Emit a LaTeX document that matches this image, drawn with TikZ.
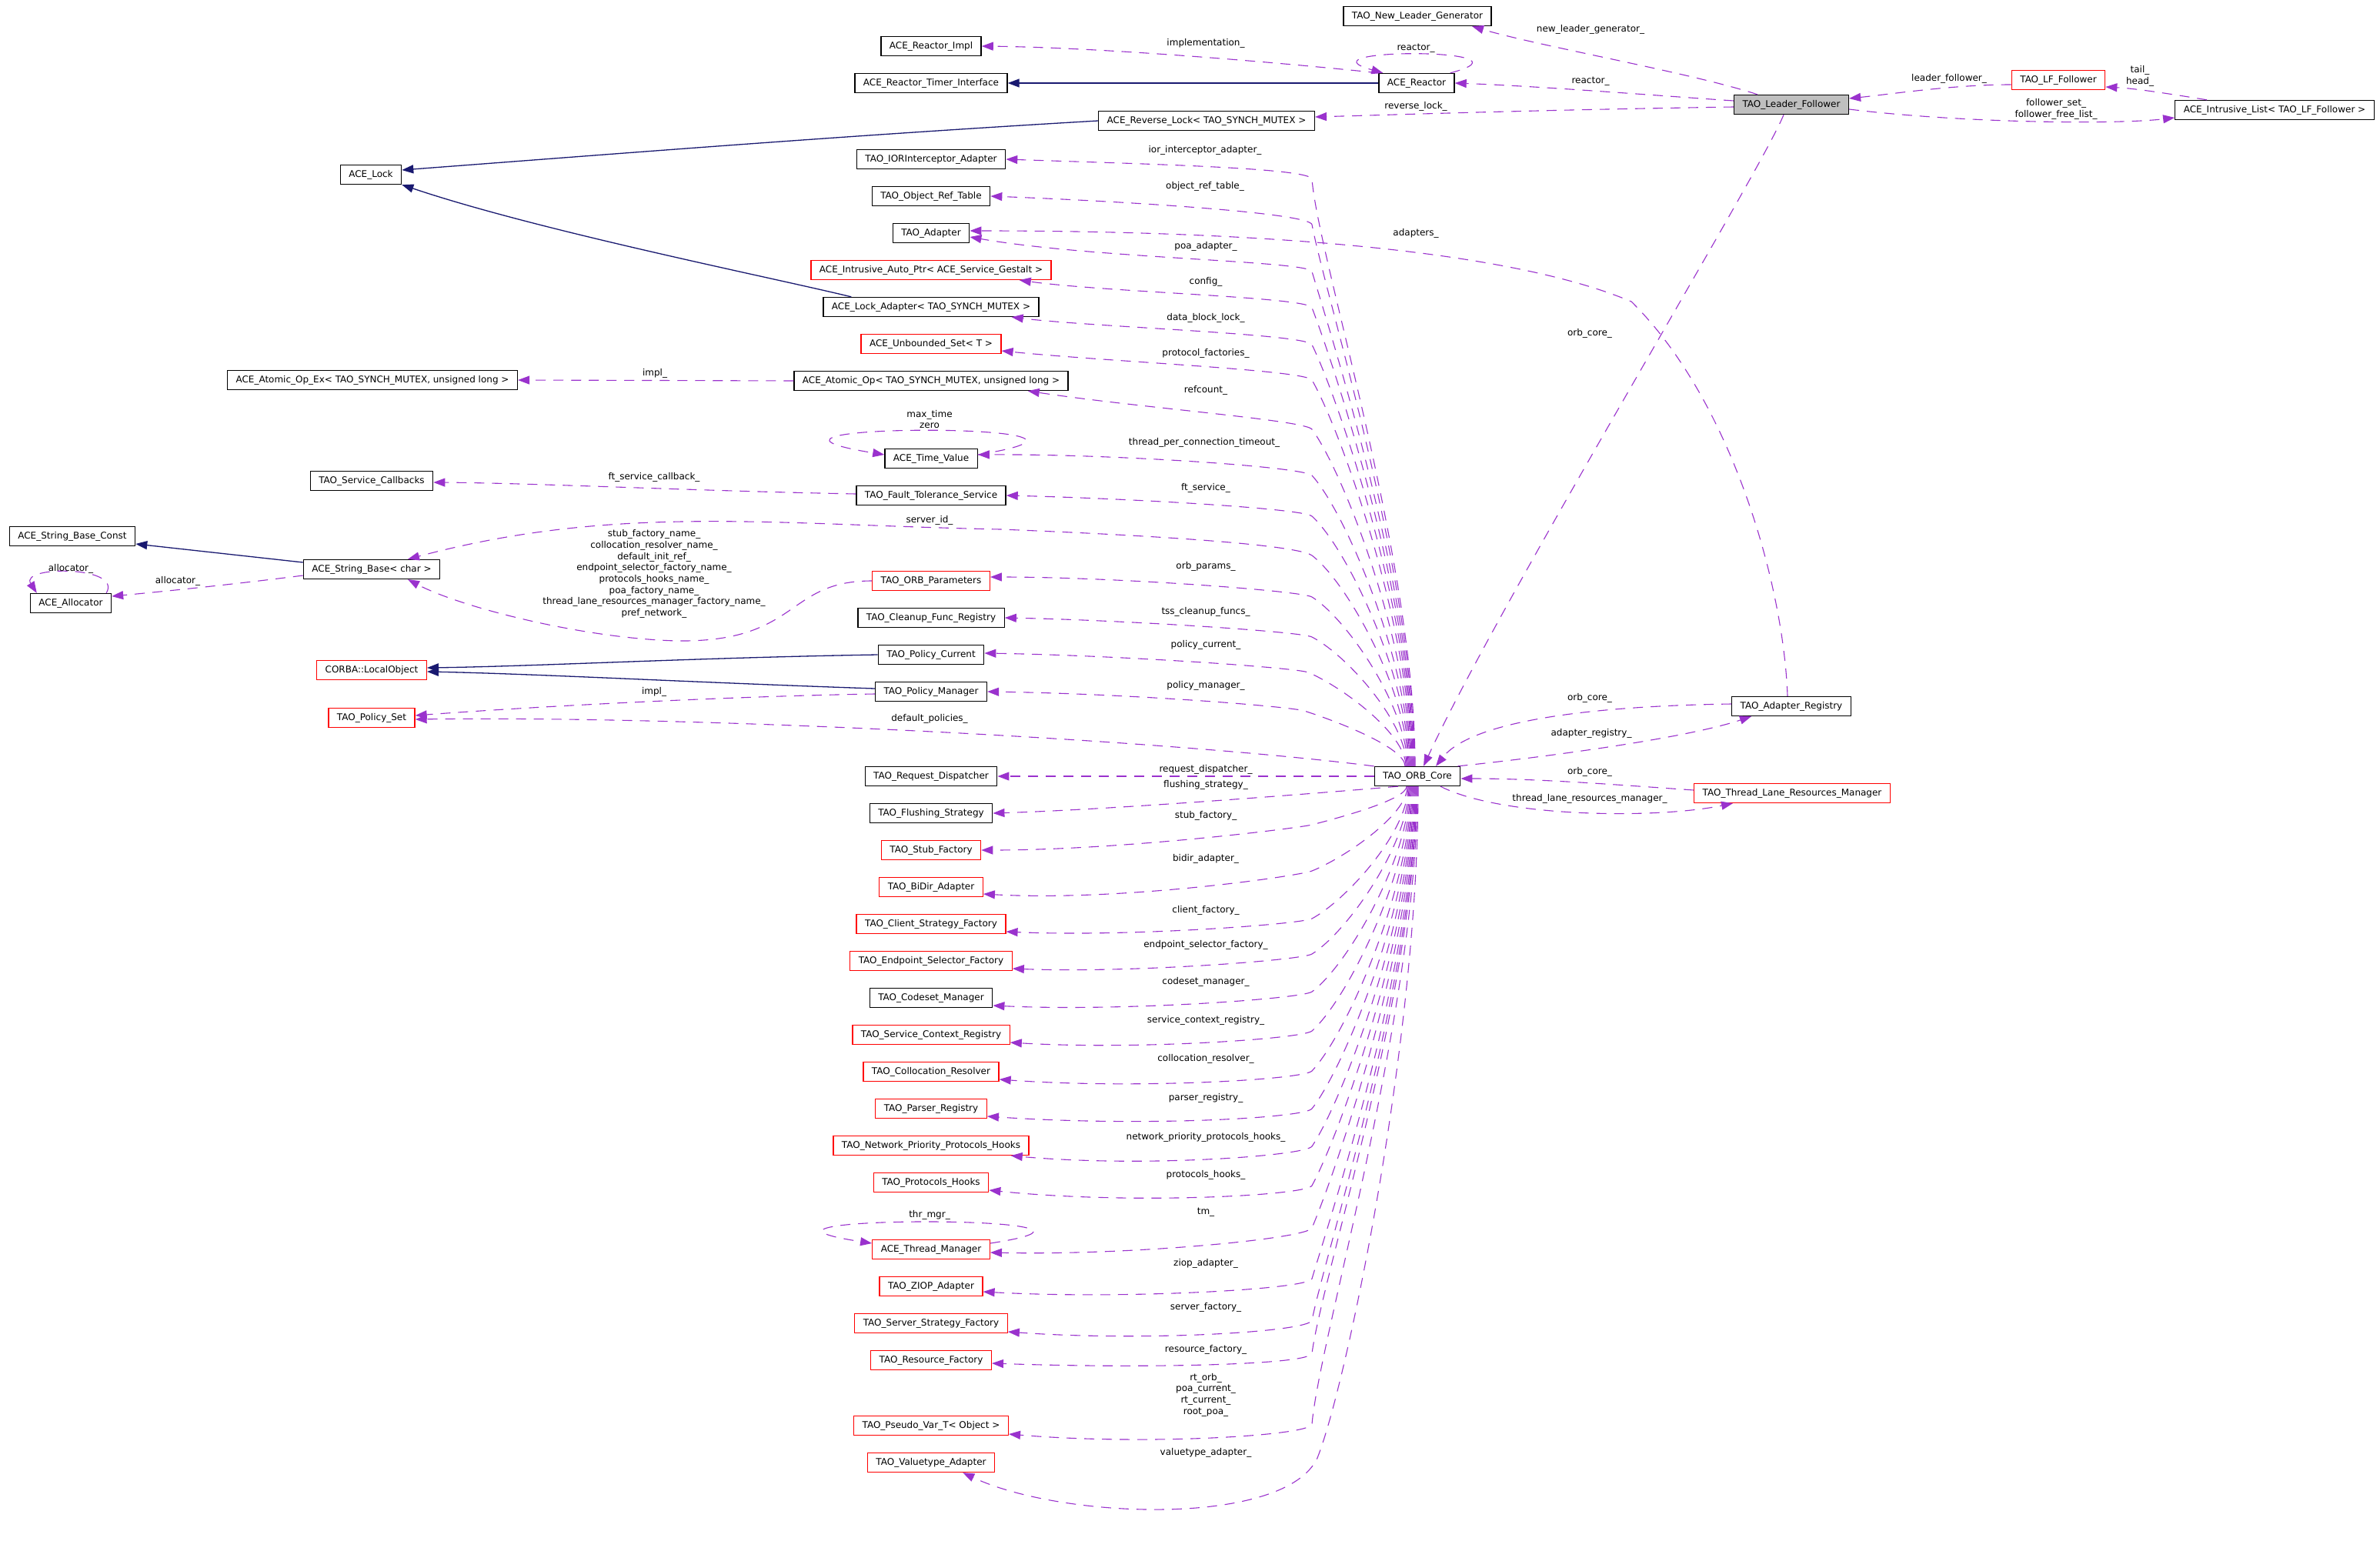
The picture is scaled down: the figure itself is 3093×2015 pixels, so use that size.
\documentclass[tikz,border=0pt]{standalone}
\usepackage{fontspec}
\setmainfont{DejaVu Sans}
\usetikzlibrary{arrows.meta}
\definecolor{usecol}{HTML}{9A32CD}
\definecolor{inhcol}{HTML}{191970}
\definecolor{grey75}{HTML}{BFBFBF}
\begin{document}
\begin{tikzpicture}[
		x=1pt, y=-1pt,
		every node/.style={font=\fontsize{12}{14.7}\selectfont, align=center},
		cls/.style={draw=black, fill=white, line width=1.3pt, minimum height=25pt, inner xsep=11pt, inner ysep=0pt},
		undoc/.style={cls, draw=red},
		focus/.style={cls, fill=grey75},
		lbl/.style={inner sep=0pt},
		member/.style={draw=usecol, line width=1.1pt, dash pattern=on 13pt off 10pt, -{Triangle[length=15pt,width=11pt]}},
		inherit/.style={draw=inhcol, line width=1.3pt, -{Triangle[length=15pt,width=11pt]}}]
		
		\path[fill=white, use as bounding box] (0,0) rectangle (3093,2015);
		
		\node[cls] (nlg) at (1842,21) {TAO\_New\_Leader\_Generator};
		\node[cls] (rimpl) at (1210,60) {ACE\_Reactor\_Impl};
		\node[cls] (rtimer) at (1210,108) {ACE\_Reactor\_Timer\_Interface};
		\node[cls] (reactor) at (1841,108) {ACE\_Reactor};
		\node[cls] (rlock) at (1568,157) {ACE\_Reverse\_Lock< TAO\_SYNCH\_MUTEX >};
		\node[focus] (lf) at (2328,136) {TAO\_Leader\_Follower};
		\node[undoc] (lff) at (2675,104) {TAO\_LF\_Follower};
		\node[cls] (ilist) at (2956,143) {ACE\_Intrusive\_List< TAO\_LF\_Follower >};
		\node[cls] (lock) at (482,227) {ACE\_Lock};
		\node[cls] (iora) at (1210,207) {TAO\_IORInterceptor\_Adapter};
		\node[cls] (ort) at (1210,255) {TAO\_Object\_Ref\_Table};
		\node[cls] (adapter) at (1210,303) {TAO\_Adapter};
		\node[undoc] (autoptr) at (1210,351) {ACE\_Intrusive\_Auto\_Ptr< ACE\_Service\_Gestalt >};
		\node[cls] (lockad) at (1210,399) {ACE\_Lock\_Adapter< TAO\_SYNCH\_MUTEX >};
		\node[undoc] (uset) at (1210,447) {ACE\_Unbounded\_Set< T >};
		\node[cls] (atomic) at (1210,495) {ACE\_Atomic\_Op< TAO\_SYNCH\_MUTEX, unsigned long >};
		\node[cls] (atomicex) at (484,494) {ACE\_Atomic\_Op\_Ex< TAO\_SYNCH\_MUTEX, unsigned long >};
		\node[cls] (tv) at (1210,596) {ACE\_Time\_Value};
		\node[cls] (ft) at (1210,644) {TAO\_Fault\_Tolerance\_Service};
		\node[cls] (scb) at (483,625) {TAO\_Service\_Callbacks};
		\node[cls] (sbc) at (94,697) {ACE\_String\_Base\_Const};
		\node[cls] (sb) at (483,740) {ACE\_String\_Base< char >};
		\node[cls] (alloc) at (92,784) {ACE\_Allocator};
		\node[undoc] (orbp) at (1210,755) {TAO\_ORB\_Parameters};
		\node[cls] (cfr) at (1210,803) {TAO\_Cleanup\_Func\_Registry};
		\node[cls] (pcur) at (1210,851) {TAO\_Policy\_Current};
		\node[cls] (pman) at (1210,899) {TAO\_Policy\_Manager};
		\node[undoc] (lobj) at (483,871) {CORBA::LocalObject};
		\node[undoc] (pset) at (483,933) {TAO\_Policy\_Set};
		\node[cls] (rd) at (1210,1009) {TAO\_Request\_Dispatcher};
		\node[cls] (fs) at (1210,1057) {TAO\_Flushing\_Strategy};
		\node[cls] (core) at (1842,1009) {TAO\_ORB\_Core};
		\node[undoc] (stub) at (1210,1105) {TAO\_Stub\_Factory};
		\node[undoc] (bidir) at (1210,1153) {TAO\_BiDir\_Adapter};
		\node[undoc] (csf) at (1210,1201) {TAO\_Client\_Strategy\_Factory};
		\node[undoc] (esf) at (1210,1249) {TAO\_Endpoint\_Selector\_Factory};
		\node[cls] (csm) at (1210,1297) {TAO\_Codeset\_Manager};
		\node[undoc] (scr) at (1210,1345) {TAO\_Service\_Context\_Registry};
		\node[undoc] (cres) at (1210,1393) {TAO\_Collocation\_Resolver};
		\node[undoc] (preg) at (1210,1441) {TAO\_Parser\_Registry};
		\node[undoc] (nph) at (1210,1489) {TAO\_Network\_Priority\_Protocols\_Hooks};
		\node[undoc] (ph) at (1210,1537) {TAO\_Protocols\_Hooks};
		\node[undoc] (tmgr) at (1210,1624) {ACE\_Thread\_Manager};
		\node[undoc] (ziop) at (1210,1672) {TAO\_ZIOP\_Adapter};
		\node[undoc] (ssf) at (1210,1720) {TAO\_Server\_Strategy\_Factory};
		\node[undoc] (rf) at (1210,1768) {TAO\_Resource\_Factory};
		\node[undoc] (pvar) at (1210,1853) {TAO\_Pseudo\_Var\_T< Object >};
		\node[undoc] (vta) at (1210,1901) {TAO\_Valuetype\_Adapter};
		\node[cls] (areg) at (2328,918) {TAO\_Adapter\_Registry};
		\node[undoc] (tlrm) at (2329,1031) {TAO\_Thread\_Lane\_Resources\_Manager};
		
		\draw[inherit] (reactor.west) -- (rtimer.east);
		\draw[inherit] (rlock.west) .. controls (1100,176) and (800,200) .. ([yshift=6pt]lock.east);
		\draw[inherit] ([xshift=37pt]lockad.north west) .. controls (1000,360) and (700,300) .. (lock.south east);
		\draw[inherit] ([yshift=9pt]sb.west) -- ([yshift=-10pt]sbc.east);
		\draw[inherit] (pcur.west) .. controls (900,855) and (700,866) .. ([yshift=3pt]lobj.east);
		\draw[inherit] ([yshift=4pt]pman.west) .. controls (900,887) and (700,876) .. ([yshift=-2pt]lobj.east);
		
		\draw[member] ([xshift=-44pt]lf.north) .. controls (2200,95) and (2000,60) .. ([xshift=71pt]nlg.south);
		\draw[member] (reactor.north west) .. controls (1700,85) and (1450,62) .. (rimpl.east);
		\draw[member] ([xshift=-6pt]reactor.north east) .. controls (2010,62) and (1680,62) .. ([xshift=6pt]reactor.north west);
		\draw[member] ([yshift=5pt]lf.west) .. controls (2150,124) and (2000,112) .. (reactor.east);
		\draw[member] ([yshift=-3pt]lf.west) .. controls (2000,143) and (1850,148) .. ([yshift=5pt]rlock.east);
		\draw[member] ([yshift=-6pt]lff.west) .. controls (2540,110) and (2460,122) .. ([yshift=8pt]lf.east);
		\draw[member] ([xshift=42pt]ilist.north west) .. controls (2820,122) and (2775,115) .. ([yshift=-9pt]lff.east);
		\draw[member] ([yshift=-6pt]lf.east) .. controls (2550,160) and (2750,162) .. ([yshift=-10pt]ilist.west);
		\draw[member] ([xshift=-10pt]lf.south) .. controls (2290,220) and (1950,780) .. ([xshift=8pt]core.north);
		
		\draw[member] ([xshift=-5pt]areg.north) .. controls (2318,760) and (2250,520) .. (2120,392) .. controls (1950,320) and (1600,300) .. ([yshift=3pt]adapter.east);
		\draw[member] ([yshift=3pt]areg.west) .. controls (2050,918) and (1910,940) .. ([xshift=24pt]core.north);
		\draw[member] ([xshift=-4pt]core.north east) .. controls (2000,985) and (2190,960) .. ([xshift=-52pt]areg.south);
		\draw[member] ([yshift=4pt]tlrm.west) .. controls (2100,1020) and (2000,1012) .. ([yshift=-3pt]core.east);
		\draw[member] ([xshift=30pt]core.south) .. controls (1950,1062) and (2150,1065) .. ([xshift=-77pt]tlrm.south);
		
		\draw[member] (atomic.west) -- (atomicex.east);
		\draw[member] ([yshift=2pt]ft.west) .. controls (900,638) and (700,628) .. ([yshift=-2pt]scb.east);
		\draw[member] ([yshift=-8pt]sb.west) .. controls (300,760) and (200,770) .. ([yshift=9pt]alloc.east);
		\draw[member] ([xshift=-7pt]alloc.north east) .. controls (160,735) and (25,735) .. ([xshift=9pt]alloc.north west);
		\draw[member] (orbp.west) .. controls (1020,755) and (1040,835) .. (880,833) .. controls (760,830) and (600,790) .. ([xshift=47pt]sb.south);
		\draw[member] ([yshift=-3pt]pman.west) .. controls (950,905) and (700,918) .. ([yshift=3pt]pset.east);
		\draw[member] (core.north west) .. controls (1500,960) and (900,930) .. ([yshift=-2pt]pset.east);
		\draw[member] ([yshift=5pt]tv.east) .. controls (1530,549) and (890,549) .. ([yshift=5pt]tv.west);
		\draw[member] ([yshift=8pt]tmgr.east) .. controls (1530,1579) and (890,1579) .. ([yshift=8pt]tmgr.west);
		
		\draw[member] ([xshift=-3pt]core.north) .. controls (1839,729) and (1713,335) .. (1705,233) .. controls (1704,218) and (1480,213) .. (iora.east);
		\draw[member] ([xshift=-4pt]core.north) .. controls (1838,750) and (1723,387) .. (1705,292) .. controls (1702,277) and (1470,262) .. (ort.east);
		\draw[member] ([xshift=-5pt]core.north) .. controls (1837,771) and (1731,440) .. (1705,353) .. controls (1701,339) and (1420,336) .. ([yshift=-5pt]adapter.east);
		\draw[member] ([xshift=-6pt]core.north) .. controls (1836,787) and (1736,481) .. (1705,400) .. controls (1700,386) and (1440,380) .. ([xshift=-42pt]autoptr.south east);
		\draw[member] ([xshift=-7pt]core.north) .. controls (1835,804) and (1741,522) .. (1705,448) .. controls (1698,434) and (1420,425) .. ([xshift=-36pt]lockad.south east);
		\draw[member] ([xshift=-8pt]core.north) .. controls (1834,820) and (1744,562) .. (1705,494) .. controls (1697,481) and (1440,470) .. ([yshift=-9pt]uset.east);
		\draw[member] ([xshift=-9pt]core.north) .. controls (1833,843) and (1748,617) .. (1705,558) .. controls (1696,546) and (1480,530) .. ([xshift=-53pt]atomic.south east);
		\draw[member] ([xshift=-10pt]core.north) .. controls (1832,864) and (1750,668) .. (1705,618) .. controls (1695,607) and (1450,590) .. ([yshift=5pt]tv.east);
		\draw[member] ([xshift=-11pt]core.north) .. controls (1831,882) and (1751,713) .. (1705,671) .. controls (1694,661) and (1470,648) .. (ft.east);
		\draw[member] ([xshift=-12pt]core.north) .. controls (1830,900) and (1751,757) .. (1705,722) .. controls (1693,713) and (1600,700) .. (1300,688) .. controls (1000,682) and (800,655) .. ([xshift=47pt]sb.north);
		\draw[member] ([xshift=-13pt]core.north) .. controls (1829,919) and (1750,804) .. (1705,776) .. controls (1692,768) and (1450,750) .. ([yshift=5pt]orbp.east);
		\draw[member] ([xshift=-14pt]core.north) .. controls (1828,937) and (1748,850) .. (1705,828) .. controls (1692,821) and (1460,806) .. (cfr.east);
		\draw[member] ([xshift=-15pt]core.north) .. controls (1827,953) and (1741,891) .. (1700,874) .. controls (1686,868) and (1460,852) .. ([yshift=2pt]pcur.east);
		\draw[member] ([xshift=-16pt]core.north) .. controls (1826,971) and (1733,936) .. (1695,924) .. controls (1681,919) and (1480,902) .. (pman.east);
		
		\draw[member] (core.west) -- (rd.east);
		\draw[member] ([xshift=-25pt]core.south) .. controls (1700,1032) and (1450,1052) .. (fs.east);
		\draw[member] ([xshift=-14pt]core.south) .. controls (1828,1039) and (1744,1062) .. (1705,1072) .. controls (1690,1076) and (1460,1105) .. (stub.east);
		\draw[member] ([xshift=-13pt]core.south) .. controls (1829,1060) and (1745,1116) .. (1705,1132) .. controls (1691,1138) and (1460,1172) .. ([yshift=-9pt]bidir.east);
		\draw[member] ([xshift=-12pt]core.south) .. controls (1830,1082) and (1748,1171) .. (1705,1194) .. controls (1692,1201) and (1470,1218) .. ([yshift=-10pt]csf.east);
		\draw[member] ([xshift=-11pt]core.south) .. controls (1831,1098) and (1750,1212) .. (1705,1240) .. controls (1692,1248) and (1470,1265) .. ([yshift=-10pt]esf.east);
		\draw[member] ([xshift=-10pt]core.south) .. controls (1832,1115) and (1751,1255) .. (1705,1289) .. controls (1693,1298) and (1460,1315) .. ([yshift=-10pt]csm.east);
		\draw[member] ([xshift=-9pt]core.south) .. controls (1833,1133) and (1751,1299) .. (1705,1340) .. controls (1694,1350) and (1480,1365) .. ([yshift=-10pt]scr.east);
		\draw[member] ([xshift=-8pt]core.south) .. controls (1834,1152) and (1751,1343) .. (1705,1392) .. controls (1695,1403) and (1480,1416) .. ([yshift=-10pt]cres.east);
		\draw[member] ([xshift=-7pt]core.south) .. controls (1835,1169) and (1749,1385) .. (1705,1441) .. controls (1696,1453) and (1490,1465) .. ([yshift=-10pt]preg.east);
		\draw[member] ([xshift=-6pt]core.south) .. controls (1836,1186) and (1747,1427) .. (1705,1490) .. controls (1697,1502) and (1490,1518) .. ([xshift=-24pt]nph.south east);
		\draw[member] ([xshift=-5pt]core.south) .. controls (1837,1204) and (1743,1471) .. (1705,1541) .. controls (1698,1554) and (1470,1566) .. ([yshift=-10pt]ph.east);
		\draw[member] ([xshift=-4pt]core.south) .. controls (1838,1223) and (1738,1518) .. (1705,1596) .. controls (1699,1610) and (1470,1632) .. ([yshift=-4pt]tmgr.east);
		\draw[member] ([xshift=-3pt]core.south) .. controls (1839,1246) and (1731,1575) .. (1705,1662) .. controls (1701,1676) and (1460,1689) .. ([yshift=-7pt]ziop.east);
		\draw[member] ([xshift=-2pt]core.south) .. controls (1840,1265) and (1724,1622) .. (1705,1716) .. controls (1702,1731) and (1490,1744) .. ([yshift=-11pt]ssf.east);
		\draw[member] ([xshift=-1pt]core.south) .. controls (1841,1280) and (1718,1660) .. (1705,1759) .. controls (1703,1774) and (1490,1779) .. ([yshift=-4pt]rf.east);
		\draw[member] (core.south) .. controls (1842,1312) and (1714,1743) .. (1705,1851) .. controls (1704,1866) and (1490,1879) .. ([yshift=-11pt]pvar.east);
		\draw[member] ([xshift=1pt]core.south) .. controls (1843,1350) and (1750,1800) .. (1712,1895) .. controls (1670,1985) and (1380,1975) .. ([xshift=-42pt]vta.south east);
		
		\node[lbl] (l-nlg) at (2067,38) {new\_leader\_generator\_};
		\node[lbl] (l-impl) at (1567,56) {implementation\_};
		\node[lbl] (l-rself) at (1840,63) {reactor\_};
		\node[lbl] (l-react) at (2067,106) {reactor\_};
		\node[lbl] (l-rlock) at (1840,138) {reverse\_lock\_};
		\node[lbl] (l-lf) at (2533,102) {leader\_follower\_};
		\node[lbl] (l-th) at (2781,99) {tail\_\\head\_};
		\node[lbl] (l-fset) at (2672,142) {follower\_set\_\\follower\_free\_list\_};
		\node[lbl] (l-lfcore) at (2066,433) {orb\_core\_};
		\node[lbl] (l-adps) at (1840,303) {adapters\_};
		\node[lbl] (l-arcore) at (2066,907) {orb\_core\_};
		\node[lbl] (l-areg) at (2068,953) {adapter\_registry\_};
		\node[lbl] (l-tlcore) at (2066,1003) {orb\_core\_};
		\node[lbl] (l-tlrm) at (2066,1038) {thread\_lane\_resources\_manager\_};
		
		\node[lbl] (l-ior) at (1566,195) {ior\_interceptor\_adapter\_};
		\node[lbl] (l-ort) at (1566,242) {object\_ref\_table\_};
		\node[lbl] (l-poa) at (1567,320) {poa\_adapter\_};
		\node[lbl] (l-cfg) at (1567,366) {config\_};
		\node[lbl] (l-dbl) at (1567,413) {data\_block\_lock\_};
		\node[lbl] (l-pf) at (1567,459) {protocol\_factories\_};
		\node[lbl] (l-rc) at (1567,507) {refcount\_};
		\node[lbl] (l-aimpl) at (851,485) {impl\_};
		\node[lbl] (l-tv) at (1208,545) {max\_time\\zero};
		\node[lbl] (l-tpct) at (1565,575) {thread\_per\_connection\_timeout\_};
		\node[lbl] (l-fts) at (1567,634) {ft\_service\_};
		\node[lbl] (l-ftcb) at (850,620) {ft\_service\_callback\_};
		\node[lbl] (l-sid) at (1208,676) {server\_id\_};
		\node[lbl] (l-names) at (850,746) {stub\_factory\_name\_\\collocation\_resolver\_name\_\\default\_init\_ref\_\\endpoint\_selector\_factory\_name\_\\protocols\_hooks\_name\_\\poa\_factory\_name\_\\thread\_lane\_resources\_manager\_factory\_name\_\\pref\_network\_};
		\node[lbl] (l-alloc) at (231,755) {allocator\_};
		\node[lbl] (l-aself) at (92,739) {allocator\_};
		\node[lbl] (l-orbp) at (1567,736) {orb\_params\_};
		\node[lbl] (l-tss) at (1567,795) {tss\_cleanup\_funcs\_};
		\node[lbl] (l-pcur) at (1567,838) {policy\_current\_};
		\node[lbl] (l-pman) at (1567,891) {policy\_manager\_};
		\node[lbl] (l-pimpl) at (850,899) {impl\_};
		\node[lbl] (l-dpol) at (1208,934) {default\_policies\_};
		\node[lbl] (l-rd) at (1567,1000) {request\_dispatcher\_};
		\node[lbl] (l-fs) at (1567,1020) {flushing\_strategy\_};
		\node[lbl] (l-stub) at (1567,1060) {stub\_factory\_};
		\node[lbl] (l-bidir) at (1567,1116) {bidir\_adapter\_};
		\node[lbl] (l-csf) at (1567,1183) {client\_factory\_};
		\node[lbl] (l-esf) at (1567,1228) {endpoint\_selector\_factory\_};
		\node[lbl] (l-csm) at (1567,1276) {codeset\_manager\_};
		\node[lbl] (l-scr) at (1567,1326) {service\_context\_registry\_};
		\node[lbl] (l-cres) at (1567,1376) {collocation\_resolver\_};
		\node[lbl] (l-preg) at (1567,1427) {parser\_registry\_};
		\node[lbl] (l-nph) at (1567,1478) {network\_priority\_protocols\_hooks\_};
		\node[lbl] (l-ph) at (1567,1527) {protocols\_hooks\_};
		\node[lbl] (l-tm) at (1567,1576) {tm\_};
		\node[lbl] (l-thr) at (1208,1579) {thr\_mgr\_};
		\node[lbl] (l-ziop) at (1567,1642) {ziop\_adapter\_};
		\node[lbl] (l-ssf) at (1567,1699) {server\_factory\_};
		\node[lbl] (l-rf) at (1567,1754) {resource\_factory\_};
		\node[lbl] (l-pvar) at (1567,1813) {rt\_orb\_\\poa\_current\_\\rt\_current\_\\root\_poa\_};
		\node[lbl] (l-vta) at (1567,1888) {valuetype\_adapter\_};
		
	\end{tikzpicture}
\end{document}
